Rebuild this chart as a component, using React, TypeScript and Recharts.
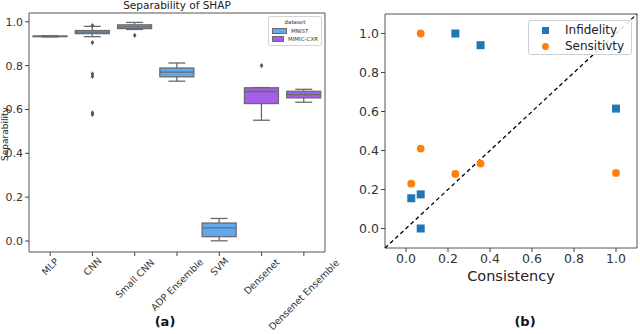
import React from 'react';
import {
  ComposedChart,
  ScatterChart,
  Bar,
  Scatter,
  XAxis,
  YAxis,
  ReferenceArea,
  ReferenceLine,
} from 'recharts';

// (a) box plot of SHAP separability per model
const MODELS = ['MLP', 'CNN', 'Small CNN', 'ADP Ensemble', 'SVM', 'Densenet', 'Densenet Ensemble'];
const DATASET = ['MNIST', 'MNIST', 'MNIST', 'MNIST', 'MNIST', 'MIMIC-CXR', 'MIMIC-CXR'];
const WHISKER_LOW = [0.931, 0.932, 0.965, 0.729, 0.001, 0.551, 0.633];
const Q1 = [0.932, 0.946, 0.969, 0.749, 0.02, 0.627, 0.653];
const MEDIAN = [0.933, 0.953, 0.977, 0.77, 0.06, 0.682, 0.668];
const Q3 = [0.935, 0.96, 0.986, 0.789, 0.082, 0.699, 0.683];
const WHISKER_HIGH = [0.936, 0.979, 0.997, 0.812, 0.103, 0.7, 0.692];
const OUTLIER_MODEL = ['CNN', 'CNN', 'CNN', 'CNN', 'CNN', 'CNN', 'Small CNN', 'Densenet'];
const OUTLIER_VALUE = [0.983, 0.905, 0.762, 0.751, 0.585, 0.577, 0.938, 0.8];
const SEP_TICKS = [0, 0.2, 0.4, 0.6, 0.8, 1.0];

// (b) consistency vs infidelity / sensitivity
const INFID_X = [0.235, 0.355, 1.0, 0.025, 0.07, 0.07];
const INFID_Y = [1.0, 0.94, 0.615, 0.155, 0.175, 0.0];
const SENS_X = [0.07, 0.07, 0.025, 0.235, 0.355, 1.0];
const SENS_Y = [1.0, 0.41, 0.23, 0.28, 0.333, 0.285];
const CONS_TICKS = [0, 0.2, 0.4, 0.6, 0.8, 1.0];

const DATASET_COLORS: Record<string, string> = {
  MNIST: '#5ea9ef',
  'MIMIC-CXR': '#a45ee9',
};
const FONT = "'DejaVu Sans', sans-serif";
const EDGE = '#6a6a6a';

const boxData = MODELS.map((name, i) => ({
  name,
  dataset: DATASET[i],
  range: [WHISKER_LOW[i], WHISKER_HIGH[i]],
  q1: Q1[i],
  median: MEDIAN[i],
  q3: Q3[i],
}));

const outliers = OUTLIER_MODEL.map((name, i) => ({ name, v: OUTLIER_VALUE[i] }));
const infidelity = INFID_X.map((x, i) => ({ x, y: INFID_Y[i] }));
const sensitivity = SENS_X.map((x, i) => ({ x, y: SENS_Y[i] }));

function BoxShape(props: any) {
  const { x, y, width, height, payload } = props;
  const [lo, hi] = payload.range;
  const top = Math.min(y, y + height);
  const h = Math.abs(height);
  const py = (v: number) => top + ((hi - v) / (hi - lo)) * h;
  const cx = x + width / 2;
  const cap = width / 4;
  return (
    <g>
      <line x1={cx} x2={cx} y1={py(hi)} y2={py(payload.q3)} stroke={EDGE} strokeWidth={1.3} />
      <line x1={cx} x2={cx} y1={py(payload.q1)} y2={py(lo)} stroke={EDGE} strokeWidth={1.3} />
      <line x1={cx - cap} x2={cx + cap} y1={py(hi)} y2={py(hi)} stroke={EDGE} strokeWidth={1.3} />
      <line x1={cx - cap} x2={cx + cap} y1={py(lo)} y2={py(lo)} stroke={EDGE} strokeWidth={1.3} />
      <rect
        x={x}
        y={py(payload.q3)}
        width={width}
        height={Math.max(py(payload.q1) - py(payload.q3), 0.5)}
        fill={DATASET_COLORS[payload.dataset]}
        stroke={EDGE}
        strokeWidth={1.3}
      />
      <line x1={x} x2={x + width} y1={py(payload.median)} y2={py(payload.median)} stroke={EDGE} strokeWidth={1.3} />
    </g>
  );
}

function Diamond(props: any) {
  const { cx, cy } = props;
  return <path d={`M${cx},${cy - 2.6} L${cx + 1.8},${cy} L${cx},${cy + 2.6} L${cx - 1.8},${cy} Z`} fill="#555" />;
}

function RotatedTick(props: any) {
  const { x, y, payload } = props;
  const fs = 9.5;
  const len = String(payload.value).length * fs * 0.6;
  const cy = y - 1 + ((len + fs) * 0.707) / 2;
  return (
    <text
      x={x}
      y={cy}
      transform={`rotate(-45, ${x}, ${cy})`}
      textAnchor="middle"
      dominantBaseline="central"
      fontSize={fs}
      fill="#333"
      fontFamily={FONT}
    >
      {payload.value}
    </text>
  );
}

function SquareDot(props: any) {
  const { cx, cy } = props;
  return <rect x={cx - 4} y={cy - 4} width={8} height={8} fill="#1f77b4" />;
}

function RoundDot(props: any) {
  const { cx, cy } = props;
  return <circle cx={cx} cy={cy} r={3.9} fill="#ff7f0e" />;
}

export default function App() {
  const tickStyle = { fontSize: 11, fill: '#333', fontFamily: FONT };
  const legendRow = { display: 'flex', alignItems: 'center', height: 16 } as const;
  return (
    <div style={{ position: 'absolute', left: 0, top: 0, width: 640, height: 334, background: '#fff', overflow: 'hidden' }}>
      <div style={{ position: 'absolute', left: 330, top: 0 }}>
        <ScatterChart width={310} height={334} margin={{ top: 14, right: 3, left: 0, bottom: 0 }}>
          <XAxis
            type="number"
            dataKey="x"
            domain={[-0.1, 1.1]}
            ticks={CONS_TICKS}
            tickFormatter={(v: number) => v.toFixed(1)}
            height={86}
            tick={{ ...tickStyle, fontSize: 12.5 }}
            tickSize={4}
            tickLine={{ stroke: '#444' }}
            axisLine={false}
            label={{ value: 'Consistency', position: 'insideTop', offset: 23, fontSize: 14.5, fill: '#222', fontFamily: FONT }}
          />
          <YAxis
            type="number"
            dataKey="y"
            domain={[-0.1, 1.1]}
            ticks={CONS_TICKS}
            tickFormatter={(v: number) => v.toFixed(1)}
            width={55}
            tick={{ ...tickStyle, fontSize: 12.5 }}
            tickSize={4}
            tickLine={{ stroke: '#444' }}
            axisLine={false}
          />
          <ReferenceArea x1={-0.1} x2={1.1} y1={-0.1} y2={1.1} fill="none" stroke="#555" strokeWidth={1} fillOpacity={0} />
          <ReferenceLine
            segment={[{ x: -0.1, y: -0.1 }, { x: 1.1, y: 1.1 }]}
            stroke="#000"
            strokeWidth={1.3}
            strokeDasharray="4 3"
          />
          <Scatter name="Infidelity" data={infidelity} shape={<SquareDot />} isAnimationActive={false} />
          <Scatter name="Sensitivty" data={sensitivity} shape={<RoundDot />} isAnimationActive={false} />
        </ScatterChart>
      </div>

      <div style={{ position: 'absolute', left: 0, top: 0 }}>
        {/* wider than its panel so the last rotated label runs on past x=330 */}
        <ComposedChart width={360} height={334} data={boxData} margin={{ top: 13, right: 35, left: 0, bottom: 0 }}>
          <XAxis
            dataKey="name"
            allowDuplicatedCategory={false}
            height={82}
            tick={<RotatedTick />}
            tickSize={4}
            tickLine={{ stroke: '#444' }}
            axisLine={false}
            interval={0}
          />
          <YAxis
            type="number"
            domain={[-0.05, 1.04]}
            ticks={SEP_TICKS}
            tickFormatter={(v: number) => v.toFixed(1)}
            width={29}
            tick={tickStyle}
            tickSize={4}
            tickLine={{ stroke: '#444' }}
            axisLine={false}
          />
          <ReferenceArea y1={-0.05} y2={1.04} fill="none" stroke="#555" strokeWidth={1} fillOpacity={0} />
          <Bar dataKey="range" barSize={34} shape={<BoxShape />} isAnimationActive={false} />
          <Scatter data={outliers} dataKey="v" shape={<Diamond />} isAnimationActive={false} />
        </ComposedChart>
      </div>

      {/* legend of (b) */}
      <div
        style={{
          position: 'absolute',
          left: 528,
          top: 20,
          width: 104,
          height: 35,
          boxSizing: 'border-box',
          border: '1px solid #cfcfcf',
          borderRadius: 3,
          background: 'rgba(255,255,255,0.85)',
          padding: '1px 4px 1px 13px',
          fontFamily: FONT,
          fontSize: 12,
          color: '#222',
        }}
      >
        <div style={legendRow}>
          <span style={{ width: 7, height: 7, background: '#1f77b4', marginRight: 16 }} />
          Infidelity
        </div>
        <div style={legendRow}>
          <span style={{ width: 7, height: 7, borderRadius: 4, background: '#ff7f0e', marginRight: 16 }} />
          Sensitivty
        </div>
      </div>

      {/* titles and labels of (a) */}
      <div style={{ position: 'absolute', left: 29, width: 296, top: -1, textAlign: 'center', fontFamily: FONT, fontSize: 10.5, color: '#222' }}>
        Separability of SHAP
      </div>
      <div
        style={{
          position: 'absolute',
          left: 5,
          top: 134,
          transform: 'translate(-50%, -50%) rotate(-90deg)',
          fontFamily: FONT,
          fontSize: 9,
          color: '#222',
          whiteSpace: 'nowrap',
        }}
      >
        Separability
      </div>
      <div
        style={{
          position: 'absolute',
          left: 268,
          top: 16,
          width: 54,
          height: 30,
          border: '1px solid #d4d4d4',
          borderRadius: 2,
          background: 'rgba(255,255,255,0.85)',
          fontFamily: FONT,
          fontSize: 5.5,
          color: '#333',
          boxSizing: 'border-box',
          padding: '2px 3px',
          whiteSpace: 'nowrap',
        }}
      >
        <div style={{ textAlign: 'center', marginBottom: 2 }}>dataset</div>
        {Object.keys(DATASET_COLORS).map((d) => (
          <div key={d} style={{ display: 'flex', alignItems: 'center', height: 8 }}>
            <span style={{ width: 13, height: 4, background: DATASET_COLORS[d], border: `0.5px solid ${EDGE}`, marginRight: 4 }} />
            {d}
          </div>
        ))}
      </div>
      <div style={{ position: 'absolute', left: 150, top: 314, width: 30, textAlign: 'center', fontFamily: FONT, fontSize: 13, fontWeight: 'bold', color: '#111' }}>
        (a)
      </div>
      <div style={{ position: 'absolute', left: 510, top: 314, width: 30, textAlign: 'center', fontFamily: FONT, fontSize: 13, fontWeight: 'bold', color: '#111' }}>
        (b)
      </div>
    </div>
  );
}
